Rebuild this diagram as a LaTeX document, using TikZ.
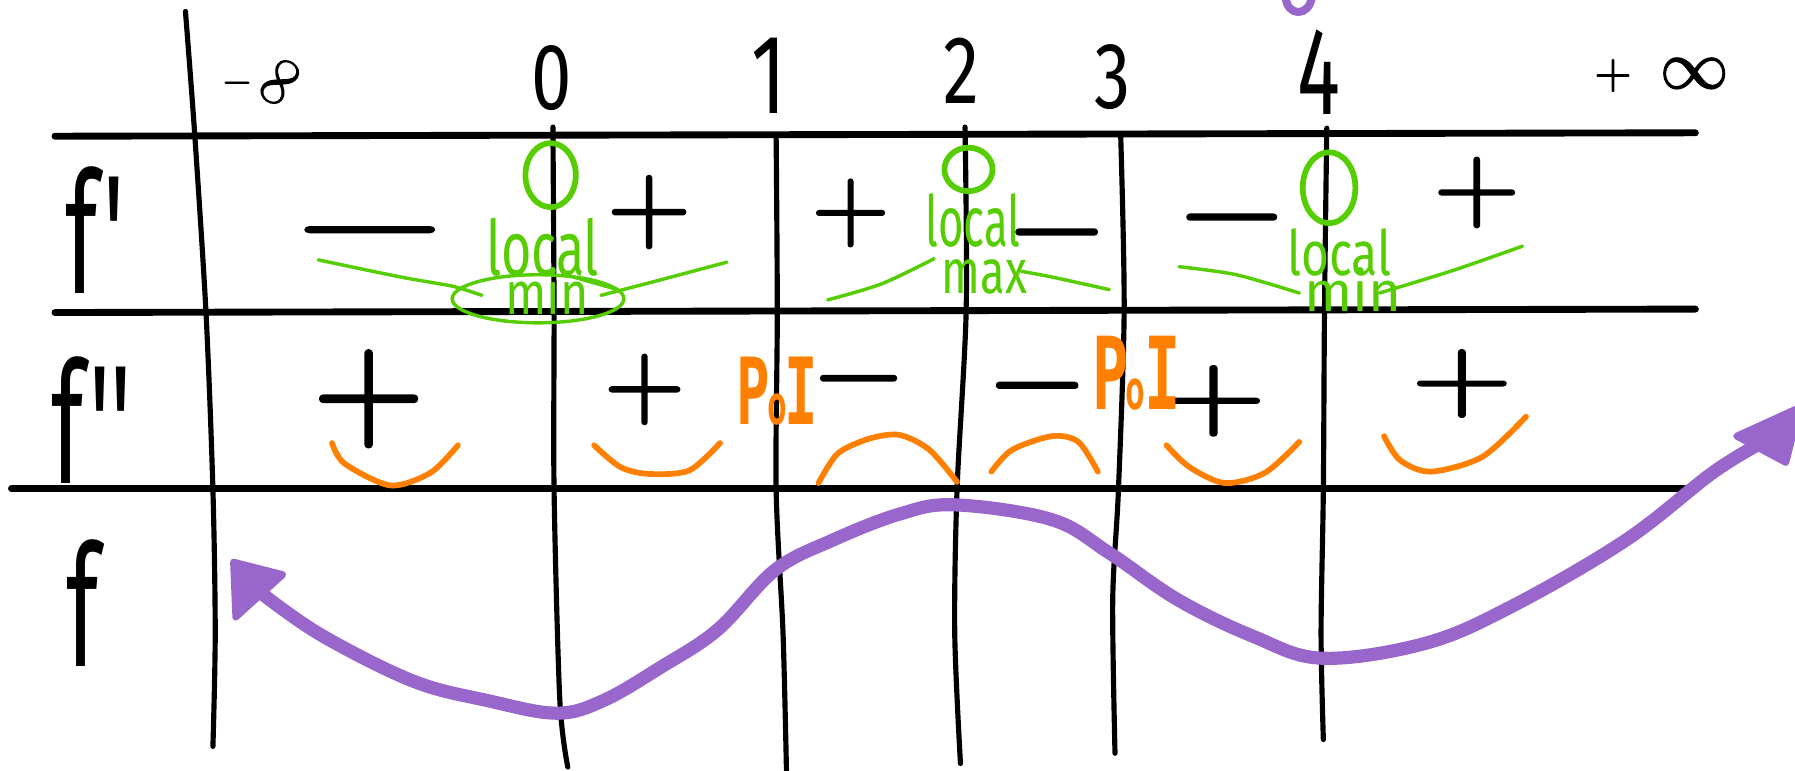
\documentclass[tikz,border=0pt]{standalone}
\usepackage{fontspec}
\newfontfamily\hand{Fira Sans}
\newfontfamily\greenfont{Fira Sans}
\newfontfamily\poifont{DejaVu Sans Mono}
\newfontfamily\signfont[FakeBold=2]{latinmodern-math.otf}
\definecolor{hgreen}{RGB}{85,205,0}
\definecolor{horange}{RGB}{255,128,0}
\definecolor{hpurple}{RGB}{153,102,204}
\newcommand\hfs[1]{\fontsize{#1}{#1}\selectfont}
\begin{document}
\begin{tikzpicture}[x=0.01cm,y=-0.01cm, line cap=round, line join=round,
  hline/.style={line width=0.06cm},
  vline/.style={line width=0.045cm},
  sgn/.style={inner sep=0, anchor=base, font=\signfont},
  dig/.style={inner sep=0, anchor=base, font=\hand},
  lab/.style={inner sep=0, anchor=base, font=\hand, yscale=1.75},
  gtext/.style={inner sep=0, anchor=base, font=\greenfont, text=hgreen},
  poi/.style={inner sep=0, anchor=base, font=\poifont\bfseries, text=horange},
  gswoosh/.style={draw=hgreen, line width=0.03cm},
  gzero/.style={draw=hgreen, line width=0.05cm},
  cup/.style={draw=horange, line width=0.05cm},
  fcurve/.style={draw=hpurple, line width=0.115cm},
  fhead/.style={fill=hpurple, draw=hpurple, line width=0.06cm}
]
\useasboundingbox (0,0) rectangle (1568,673);

% horizontal rules
\draw[hline] (48,119) -- (1481,116);
\draw[hline] (48,273) -- (1481,270);
\draw[hline] (10,427) -- (1478,427);

% vertical rules
\draw[vline] plot[smooth] coordinates {(162,10) (170,116) (180,274) (186,428) (188,553) (186,652)};
\draw[vline] plot[smooth] coordinates {(483,111) (484,273) (484,428) (489,611) (496,670)};
\draw[vline] plot[smooth] coordinates {(678,121) (679,273) (678,428) (684,553) (687,673)};
\draw[vline] plot[smooth] coordinates {(843,111) (844,271) (836,428) (834,553) (839,667)};
\draw[vline] plot[smooth] coordinates {(979,119) (982,271) (977,428) (972,524) (974,658)};
\draw[vline] plot[smooth] coordinates {(1159,112) (1157,271) (1156,428) (1154,553) (1156,646)};

% header
\node[sgn, anchor=base west] (minf) at (194,96) {\raisebox{4.5pt}{\hfs{9}−}\kern1pt\rotatebox{55}{\hfs{13}∞}};
\node[dig, yscale=1.3] (n0) at (482,96) {\hfs{18}0};
\node[dig, yscale=1.4] (n1) at (672,99) {\hfs{20}1};
\node[dig, yscale=1.33] (n2) at (840,90) {\hfs{18}2};
\node[dig, yscale=1.3] (n3) at (972,95) {\hfs{18}3};
\node[dig, yscale=1.55] (n4) at (1152,100) {\hfs{20}4};
\node[sgn] (pinfp) at (1409,76.5) {\hfs{12}+};
\node[sgn] (pinf) at (1480,77) {\hfs{17}∞};

% row labels
\node[lab] (fp) at (83,256) {\hfs{24}f\kern0.05em\textquotesingle};
\node[lab] (fpp) at (80,422) {\hfs{24}f\kern0.05em\textquotesingle\textquotesingle};
\node[lab] (f) at (72,582) {\hfs{24}f};

% f' signs
\node[sgn, xscale=1.58] (m1) at (323,227) {\hfs{30}−};
\node[sgn] (p1) at (567,209) {\hfs{27}+};
\node[sgn] (p2) at (743,208) {\hfs{25}+};
\node[sgn] (m2) at (923,229) {\hfs{30}−};
\node[sgn, xscale=1.1] (m3) at (1076,216) {\hfs{30}−};
\node[sgn, xscale=1.07] (p3) at (1290,191) {\hfs{26}+};

% f'' signs
\node[sgn] (p4) at (322,380) {\hfs{36}+};
\node[sgn] (p5) at (563,363) {\hfs{26}+};
\node[sgn] (m4) at (750,355) {\hfs{28}−};
\node[sgn] (m5) at (906,363) {\hfs{30}−};
\node[sgn, xscale=1.3] (p6) at (1060,373) {\hfs{26}+};
\node[sgn, xscale=1.3] (p7) at (1277,357) {\hfs{25}+};

% green annotations
\draw[gzero] (481,153) ellipse [x radius=22, y radius=28];
\draw[gzero] (846,148) ellipse [x radius=21, y radius=19];
\draw[gzero] (1161,164) ellipse [x radius=23, y radius=31];
\node[gtext, xscale=0.68] (loc1) at (474,241) {\hfs{19}local};
\node[gtext, xscale=0.8] (min1) at (478,275) {\hfs{15}min};
\node[gtext, xscale=0.62] (loc2) at (850,215) {\hfs{17.5}local};
\node[gtext, xscale=0.72] (max2) at (860,256) {\hfs{15.6}max};
\node[gtext, xscale=0.77] (loc3) at (1170,241) {\hfs{15.5}local};
\node[gtext] (min3) at (1182,272) {\hfs{14}min};
\draw[gswoosh] (470,261) ellipse [x radius=75, y radius=21];
\draw[gswoosh] (501,242) -- (536,252);
\draw[gswoosh] plot[smooth] coordinates {(278,227) (350,242) (395,250) (421,258)};
\draw[gswoosh] plot[smooth] coordinates {(525,258) (575,245) (635,229)};
\draw[gswoosh] plot[smooth] coordinates {(723,262) (770,248) (816,226)};
\draw[gswoosh] plot[smooth] coordinates {(892,237) (919,242) (969,253)};
\draw[gswoosh] plot[smooth] coordinates {(1030,233) (1080,240) (1135,256)};
\draw[gswoosh] plot[smooth] coordinates {(1205,256) (1270,236) (1330,215)};

% orange concavity
\node[poi, xscale=0.6] (poi1) at (679,371) {\hfs{23}P\kern-0.04em{\hfs{13.6}o}\kern-0.04em I};
\node[poi, xscale=0.6] (poi2) at (993,358) {\hfs{25}P\kern-0.06em{\hfs{13.6}o}\kern0em I};
\draw[cup] plot[smooth] coordinates {(290,387) (301,405) (341,424) (376,413) (400,389)};
\draw[cup] plot[smooth] coordinates {(519,389) (542,408) (567,414) (602,411) (629,387)};
\draw[cup] plot[smooth] coordinates {(715,422) (732,396) (760,383) (786,380) (812,393) (836,421)};
\draw[cup] plot[smooth] coordinates {(866,412) (884,393) (919,381) (942,386) (959,412)};
\draw[cup] plot[smooth] coordinates {(1019,389) (1039,408) (1070,422) (1105,413) (1135,386)};
\draw[cup] plot[smooth] coordinates {(1209,381) (1223,402) (1250,412) (1295,399) (1333,364)};

% graph of f
\draw[fcurve] plot[smooth, tension=0.6] coordinates {(228,518) (281,555) (361,595) (426,612) (486,623) (527,612) (577,583) (627,550) (677,498) (727,472) (786,449) (834,441) (919,454) (969,483) (1029,524) (1095,556) (1155,575) (1245,562) (1320,530) (1420,472) (1496,413) (1540,386)};
\filldraw[fhead] (204,491) -- (247,502) -- (206,539) -- cycle;
\filldraw[fhead] (1517,381) -- (1572,356) -- (1560,404) -- cycle;
\draw[fcurve, line width=0.07cm] (1123,-3) .. controls (1124,15) and (1144,15) .. (1146,-3);
\end{tikzpicture}
\end{document}
